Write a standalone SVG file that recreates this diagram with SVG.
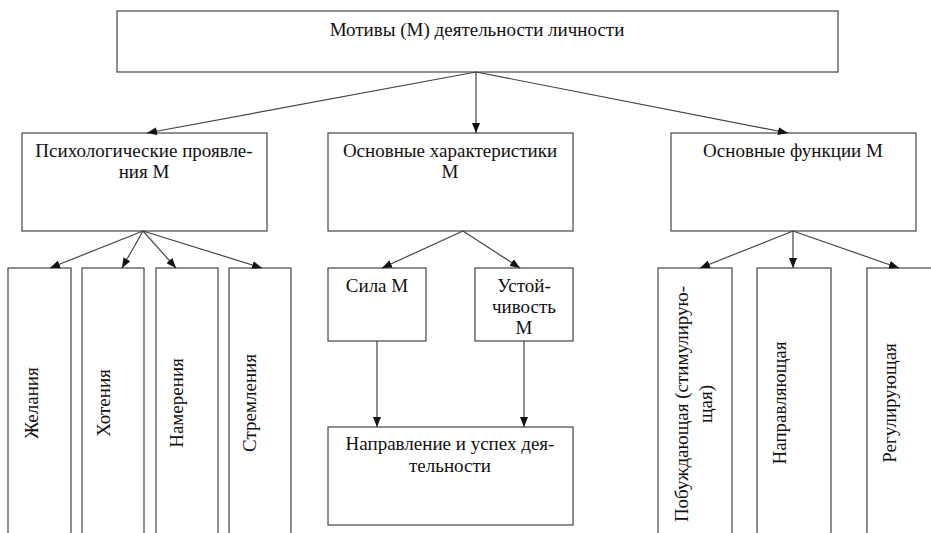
<svg xmlns="http://www.w3.org/2000/svg" width="931" height="533" viewBox="0 0 931 533">
<style>
.box{fill:#fff;stroke:#444;stroke-width:1.2}
.t{font-family:"Liberation Serif","Times New Roman",serif;font-size:19px;fill:#111;text-anchor:middle}
.c{stroke:#444;stroke-width:1.2;fill:none;marker-end:url(#ah)}
</style>
<defs>
<marker id="ah" markerUnits="userSpaceOnUse" markerWidth="10" markerHeight="8" refX="10" refY="4" orient="auto">
<path d="M0,0 L10,4 L0,8 z" fill="#111"/>
</marker>
</defs>
<rect width="931" height="533" fill="#fff"/>
<g id="motives">
<rect class="box" x="117" y="11" width="721" height="61"/>
<text class="t" x="477" y="36">Мотивы (М) деятельности личности</text>
</g>
<g id="psych">
<rect class="box" x="22" y="133" width="245" height="98"/>
<text class="t" x="144" y="157">Психологические проявле-</text>
<text class="t" x="144" y="178">ния М</text>
</g>
<g id="chars">
<rect class="box" x="328" y="133" width="245" height="98"/>
<text class="t" x="450" y="157">Основные характеристики</text>
<text class="t" x="450" y="178">М</text>
</g>
<g id="funcs">
<rect class="box" x="671" y="133" width="245" height="98"/>
<text class="t" x="793" y="157">Основные функции М</text>
</g>
<g id="zhelaniya">
<rect class="box" x="8" y="268" width="63" height="280"/>
<text class="t" transform="translate(38,403) rotate(-90)">Желания</text>
</g>
<g id="khoteniya">
<rect class="box" x="82" y="268" width="62" height="280"/>
<text class="t" transform="translate(110,403) rotate(-90)">Хотения</text>
</g>
<g id="namereniya">
<rect class="box" x="156" y="268" width="62" height="280"/>
<text class="t" transform="translate(183,403) rotate(-90)">Намерения</text>
</g>
<g id="stremleniya">
<rect class="box" x="229" y="268" width="62" height="280"/>
<text class="t" transform="translate(256,403) rotate(-90)">Стремления</text>
</g>
<g id="sila">
<rect class="box" x="328" y="268" width="98" height="73"/>
<text class="t" x="377" y="292">Сила М</text>
</g>
<g id="ustoychivost">
<rect class="box" x="475" y="268" width="98" height="73"/>
<text class="t" x="524" y="292">Устой-</text>
<text class="t" x="524" y="313">чивость</text>
<text class="t" x="524" y="334">М</text>
</g>
<g id="napravlenie">
<rect class="box" x="328" y="427" width="245" height="98"/>
<text class="t" x="450" y="450">Направление и успех дея-</text>
<text class="t" x="450" y="472">тельности</text>
</g>
<g id="pobuzhdayushchaya">
<rect class="box" x="658" y="268" width="74" height="280"/>
<text class="t" transform="translate(688,404) rotate(-90)">Побуждающая (стимулирую-</text>
<text class="t" transform="translate(712,404) rotate(-90)">щая)</text>
</g>
<g id="napravlyayushchaya">
<rect class="box" x="757" y="268" width="74" height="280"/>
<text class="t" transform="translate(786,403) rotate(-90)">Направляющая</text>
</g>
<g id="reguliruyushchaya">
<rect class="box" x="867" y="268" width="74" height="280"/>
<text class="t" transform="translate(896,403) rotate(-90)">Регулирующая</text>
</g>
<g id="connectors">
<line class="c" x1="476" y1="72" x2="147" y2="133"/>
<line class="c" x1="476" y1="72" x2="476" y2="133"/>
<line class="c" x1="476" y1="72" x2="788" y2="133"/>
<line class="c" x1="143" y1="231" x2="50" y2="268"/>
<line class="c" x1="143" y1="231" x2="122" y2="268"/>
<line class="c" x1="143" y1="231" x2="176" y2="268"/>
<line class="c" x1="143" y1="231" x2="262" y2="268"/>
<line class="c" x1="463" y1="231" x2="382" y2="268"/>
<line class="c" x1="463" y1="231" x2="520" y2="268"/>
<line class="c" x1="377" y1="341" x2="377" y2="427"/>
<line class="c" x1="524" y1="341" x2="524" y2="427"/>
<line class="c" x1="793" y1="231" x2="700" y2="268"/>
<line class="c" x1="793" y1="231" x2="793" y2="268"/>
<line class="c" x1="793" y1="231" x2="899" y2="268"/>
</g>
</svg>
